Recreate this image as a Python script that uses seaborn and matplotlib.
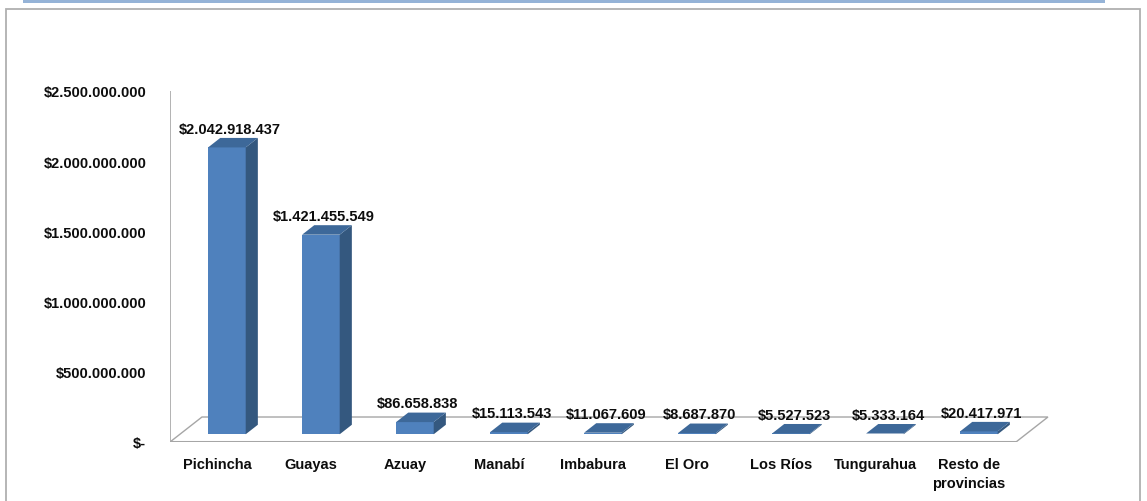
import numpy as np
import pandas as pd
import matplotlib
matplotlib.use("Agg")
import matplotlib.pyplot as plt
from matplotlib.patches import Polygon, Rectangle
from matplotlib.lines import Line2D
import seaborn as sns

# ========== datos ==========
provincias = ["Pichincha", "Guayas", "Azuay", "Manabí", "Imbabura", "El Oro",
              "Los Ríos", "Tungurahua", "Resto de\nprovincias"]
montos = [2042918437, 1421455549, 86658838, 15113543, 11067609, 8687870,
          5527523, 5333164, 20417971]
y_ticks = [0, 500000000, 1000000000, 1500000000, 2000000000, 2500000000]

df = pd.DataFrame({"provincia": provincias, "monto": montos})

sns.set_theme(style="white")
plt.rcParams["font.family"] = ["Liberation Sans", "DejaVu Sans"]
plt.rcParams["font.weight"] = "bold"


def money(v):
    if v == 0:
        return "$-"
    return "$" + f"{int(v):,}".replace(",", ".")


# colores estilo Excel
c_front = "#4f81bd"
c_side = "#34587f"
c_top = "#3d6899"
c_grid = "#a6a6a6"
c_text = "#0d0d0d"
fs = 10.5

fig = plt.figure(figsize=(11.47, 5.02), dpi=100)

# marco del gráfico y franja azul superior
fig.add_artist(Rectangle((23 / 1147, 1 - 4 / 502), 1082 / 1147, 4 / 502,
                         transform=fig.transFigure, color="#95b3d7", lw=0))
fig.add_artist(Rectangle((6 / 1147, -0.01), 1134 / 1147, 1 - 10 / 502 + 0.01,
                         transform=fig.transFigure, fill=False,
                         edgecolor="#b0b0b0", lw=1.3))

ax = fig.add_axes([170 / 1147, 59 / 502, 893 / 1147, 351 / 502])

# profundidad del "3D" en unidades de datos
DX = 0.34
DY = 0.178e9
f0 = 0.31   # posición de la cara frontal dentro del piso
fd = 0.38   # profundidad de la barra
W = 0.40

sns.barplot(data=df, x="provincia", y="monto", color=c_front, width=W,
            saturation=1, ax=ax, zorder=3, linewidth=0)

# piso
x0, x1 = -0.5, len(provincias) - 0.5
ax.add_patch(Polygon([(x0, 0), (x1, 0), (x1 + DX, DY), (x0 + DX, DY)],
                     closed=True, facecolor="white", edgecolor=c_grid,
                     lw=1.0, zorder=1))
ax.add_line(Line2D([x0, x1], [0, 0], color=c_grid, lw=2.2, zorder=2,
                   solid_capstyle="butt"))
ax.add_line(Line2D([x0, x0], [0, y_ticks[-1]], color=c_grid, lw=1.2, zorder=2))

# caras laterales y superiores
for bar, v in zip(ax.patches, montos):
    bx = bar.get_x() + f0 * DX
    by = f0 * DY
    w = bar.get_width()
    h = bar.get_height()
    bar.set_x(bx)
    bar.set_y(by)
    ddx, ddy = fd * DX, fd * DY
    side = [(bx + w, by), (bx + w + ddx, by + ddy),
            (bx + w + ddx, by + h + ddy), (bx + w, by + h)]
    top = [(bx, by + h), (bx + w, by + h),
           (bx + w + ddx, by + h + ddy), (bx + ddx, by + h + ddy)]
    ax.add_patch(Polygon(side, closed=True, facecolor=c_side, lw=0, zorder=3))
    ax.add_patch(Polygon(top, closed=True, facecolor=c_top, lw=0, zorder=3))
    ax.annotate(money(v), (bx + w / 2 + ddx / 4, by + h + ddy / 2),
                xytext=(0, 10), textcoords="offset points",
                ha="center", va="center", fontsize=fs, fontweight="bold",
                color=c_text, zorder=5)

ax.set_xlim(-0.5, len(provincias))
ax.set_ylim(0, y_ticks[-1])
ax.set_yticks(y_ticks)
ax.set_yticklabels([money(t) for t in y_ticks])
ax.set_xlabel("")
ax.set_ylabel("")
ax.tick_params(axis="y", length=0, pad=17, labelsize=fs)
ax.tick_params(axis="x", length=0, pad=11, labelsize=fs)
for lab in ax.get_xticklabels() + ax.get_yticklabels():
    lab.set_fontweight("bold")
    lab.set_color(c_text)
for lab in ax.get_xticklabels():
    lab.set_linespacing(1.45)
for s in ax.spines.values():
    s.set_visible(False)
ax.patch.set_alpha(0)

fig.savefig("out.png", dpi=100)
